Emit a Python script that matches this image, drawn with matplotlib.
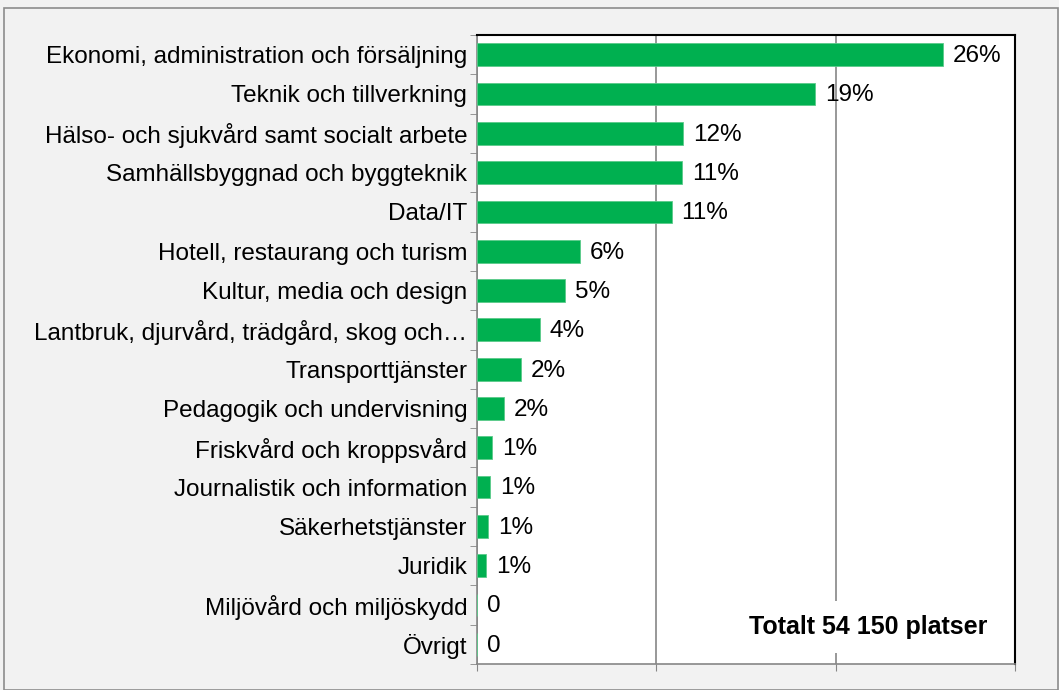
import matplotlib.pyplot as plt
from matplotlib.patches import Rectangle

categories = [
    "Ekonomi, administration och försäljning",
    "Teknik och tillverkning",
    "Hälso- och sjukvård samt socialt arbete",
    "Samhällsbyggnad och byggteknik",
    "Data/IT",
    "Hotell, restaurang och turism",
    "Kultur, media och design",
    "Lantbruk, djurvård, trädgård, skog och…",
    "Transporttjänster",
    "Pedagogik och undervisning",
    "Friskvård och kroppsvård",
    "Journalistik och information",
    "Säkerhetstjänster",
    "Juridik",
    "Miljövård och miljöskydd",
    "Övrigt",
]
values = [26.0, 18.85, 11.5, 11.45, 10.85, 5.75, 4.9, 3.5, 2.45, 1.5,
          0.85, 0.75, 0.62, 0.52, 0.0, 0.0]
value_labels = ["26%", "19%", "12%", "11%", "11%", "6%", "5%", "4%", "2%",
                "2%", "1%", "1%", "1%", "1%", "0", "0"]

plt.rcParams['font.family'] = ['Liberation Sans', 'DejaVu Sans']

fig = plt.figure(figsize=(10.59, 6.90), dpi=100, facecolor='#F2F2F2')
fig.patches.append(Rectangle((4 / 1059, 0.0), 1 - 4 / 1059 - 1 / 1059, 1 - 8 / 690,
                             transform=fig.transFigure, fill=False,
                             edgecolor='#8C8C8C', linewidth=1.2))
ax = fig.add_axes([477 / 1059, 1 - 664 / 690, (1015 - 477) / 1059, (664 - 35) / 690])
ax.set_facecolor('white')

y = list(range(len(categories)))
ax.barh(y, values, height=0.58, color='#00B050', edgecolor='#5ACB8A', linewidth=0.6, zorder=3)

for yi, v, lab in zip(y, values, value_labels):
    ax.annotate(lab, (v, yi), xytext=(7, -1), textcoords='offset points',
                ha='left', va='center', fontsize=17.5)

ax.set_xlim(0, 30)
ax.set_ylim(len(categories) - 0.5, -0.5)
ax.set_xticks([0, 10, 20, 30])
ax.set_xticklabels([])
ax.set_yticks(y)
ax.set_yticklabels(categories, fontsize=17.5)
ax.set_yticks([i + 0.5 for i in range(-1, len(categories))], minor=True)
ax.tick_params(axis='y', which='major', length=0, pad=7)
ax.tick_params(axis='y', which='minor', length=5, color='#868686', direction='out')
ax.tick_params(axis='x', length=5, color='#868686', direction='out')

ax.grid(axis='x', color='#868686', linewidth=1.2, zorder=0)
for s in ['left', 'bottom']:
    ax.spines[s].set_color('#868686')
    ax.spines[s].set_linewidth(1.2)
for s in ['top', 'right']:
    ax.spines[s].set_color('black')
    ax.spines[s].set_linewidth(1.5)

ax.text(21.8, 14.56, "Totalt 54 150 platser", ha='center', va='center',
        fontsize=18, fontweight='bold', zorder=4,
        bbox=dict(facecolor='white', edgecolor='none', pad=10))

fig.savefig('out.png', dpi=100, facecolor=fig.get_facecolor())
